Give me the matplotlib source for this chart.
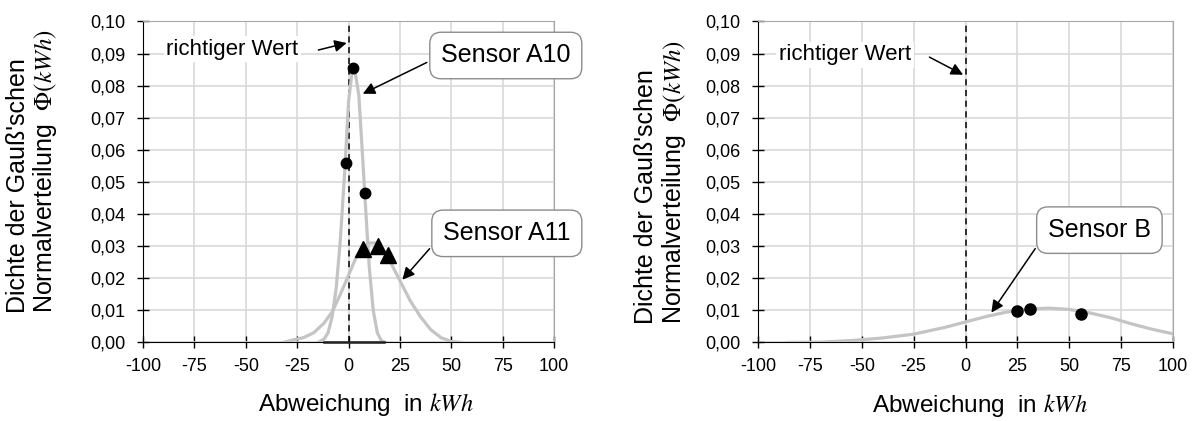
import matplotlib
matplotlib.use("Agg")
import matplotlib.pyplot as plt
from matplotlib.ticker import FuncFormatter, MultipleLocator

plt.rcParams['font.family'] = ['Liberation Sans', 'DejaVu Sans']
plt.rcParams['mathtext.fontset'] = 'stix'
plt.rcParams['axes.unicode_minus'] = False

# Sensor A10 (Gauss curve + measured points)
a10_x = [-15, -12, -10, -8, -6, -4, -2, 0, 2, 3, 5, 7, 8, 10, 12, 14, 16, 18]
a10_y = [0, 0.001, 0.003, 0.008, 0.017, 0.032, 0.052, 0.075, 0.086, 0.085,
         0.077, 0.056, 0.045, 0.024, 0.010, 0.003, 0.0005, 0]
a10_pts_x = [-1.2, 2.0, 8.0]
a10_pts_y = [0.056, 0.0856, 0.0466]

# Sensor A11
a11_x = [-32, -27, -22, -17, -12, -8, -4, 0, 4, 8, 10, 14, 18, 22, 26, 30,
         35, 40, 45, 50, 55]
a11_y = [0, 0.0008, 0.0015, 0.003, 0.006, 0.0095, 0.015, 0.021, 0.027, 0.030,
         0.031, 0.031, 0.028, 0.023, 0.018, 0.013, 0.008, 0.004, 0.0015,
         0.0003, 0]
a11_pts_x = [6.9, 14.5, 19.4]
a11_pts_y = [0.0290, 0.0302, 0.0271]

# Sensor B
b_x = [-86, -70, -55, -40, -25, -10, 0, 10, 20, 30, 40, 50, 60, 70, 80, 90, 100]
b_y = [0, 0.0001, 0.0006, 0.0014, 0.0026, 0.0047, 0.0064, 0.0081, 0.0095,
       0.0104, 0.0107, 0.0103, 0.0092, 0.0077, 0.0058, 0.0041, 0.0027]
b_pts_x = [24.6, 31.0, 55.6]
b_pts_y = [0.0098, 0.0104, 0.0088]

x_ticks = [-100, -75, -50, -25, 0, 25, 50, 75, 100]

CURVE = '#c4c4c4'
GRID = '#d9d9d9'

fig = plt.figure(figsize=(11.97, 4.21), dpi=100)
ax1 = fig.add_axes([0.1195, 0.1865, 0.3434, 0.7625])
ax2 = fig.add_axes([0.6333, 0.1865, 0.3467, 0.7625])

ylab = "Dichte der Gauß'schen\nNormalverteilung  $\\Phi(kWh)$"


def style(ax, label_x, label_y, ylab_x, ylab_y):
    ax.set_xlim(-100, 100)
    ax.set_ylim(0, 0.1)
    ax.set_xticks(x_ticks)
    ax.yaxis.set_major_locator(MultipleLocator(0.01))
    ax.yaxis.set_major_formatter(FuncFormatter(lambda v, p: f"{v:.2f}".replace('.', ',')))
    ax.xaxis.set_major_formatter(FuncFormatter(lambda v, p: f"{v:.0f}"))
    ax.grid(True, color=GRID, linewidth=1.2)
    ax.set_axisbelow(True)
    for s in ('top', 'right'):
        ax.spines[s].set_color('#a6a6a6')
    for s in ('left', 'bottom'):
        ax.spines[s].set_color('black')
    ax.tick_params(direction='inout', length=8, width=1, labelsize=13)
    ax.tick_params(axis='x', pad=7)
    ax.tick_params(axis='y', pad=8.5)
    ax.axvline(0, color='black', linestyle=(0, (4, 3)), linewidth=1.1, zorder=2)
    ax.set_xlabel("Abweichung  in $kWh$", fontsize=17.5)
    ax.xaxis.set_label_coords(label_x, label_y)
    ax.set_ylabel(ylab, fontsize=18, linespacing=1.05, multialignment='left')
    ax.yaxis.set_label_coords(ylab_x, ylab_y)


style(ax1, 0.543, -0.15, -0.205, 0.535)
style(ax2, 0.535, -0.155, -0.17, 0.5)

box = dict(boxstyle='round,pad=0.45,rounding_size=0.45', fc='white', ec='#8c8c8c', lw=1)
arrow = dict(arrowstyle='-|>', color='black', lw=1.1, mutation_scale=18, relpos=(0, 0.5))
arrow_plain = dict(arrowstyle='-|>', color='black', lw=1.1, mutation_scale=18)

# left panel
ax1.plot(a11_x, a11_y, color=CURVE, lw=2.3, zorder=3)
ax1.plot(a10_x, a10_y, color=CURVE, lw=2.3, zorder=3)
ax1.plot([-12, 17], [0, 0], color='#202020', lw=1.8, zorder=3, clip_on=False)
ax1.plot(a10_pts_x, a10_pts_y, 'o', color='black', ms=7.5, zorder=4)
ax1.plot(a11_pts_x, a11_pts_y, '^', color='black', ms=12, zorder=4)
ax1.text(-56.5, 0.0914, "richtiger Wert", fontsize=16, ha='center', va='center',
         bbox=dict(fc='white', ec='none', pad=2), zorder=5)
ax1.annotate("", xy=(0.4, 0.0935), xytext=(-16, 0.0909), arrowprops=arrow_plain, zorder=5)
ax1.annotate("Sensor A10", xy=(5.7, 0.0771), xytext=(76.5, 0.0894), fontsize=18,
             ha='center', va='center', bbox=box, arrowprops=arrow, zorder=6)
ax1.annotate("Sensor A11", xy=(25.3, 0.0189), xytext=(77, 0.034), fontsize=18,
             ha='center', va='center', bbox=box, arrowprops=arrow, zorder=6)

# right panel
ax2.plot(b_x, b_y, color=CURVE, lw=2.3, zorder=3)
ax2.plot(b_pts_x, b_pts_y, 'o', color='black', ms=8, zorder=4)
ax2.text(-58, 0.0896, "richtiger Wert", fontsize=16, ha='center', va='center',
         bbox=dict(fc='white', ec='none', pad=2), zorder=5)
ax2.annotate("", xy=(0, 0.083), xytext=(-18.6, 0.0893), arrowprops=arrow_plain, zorder=5)
ax2.annotate("Sensor B", xy=(11.7, 0.0086), xytext=(64.5, 0.035), fontsize=18,
             ha='center', va='center', bbox=box, arrowprops=arrow, zorder=6)

fig.savefig("out.png", dpi=100)
